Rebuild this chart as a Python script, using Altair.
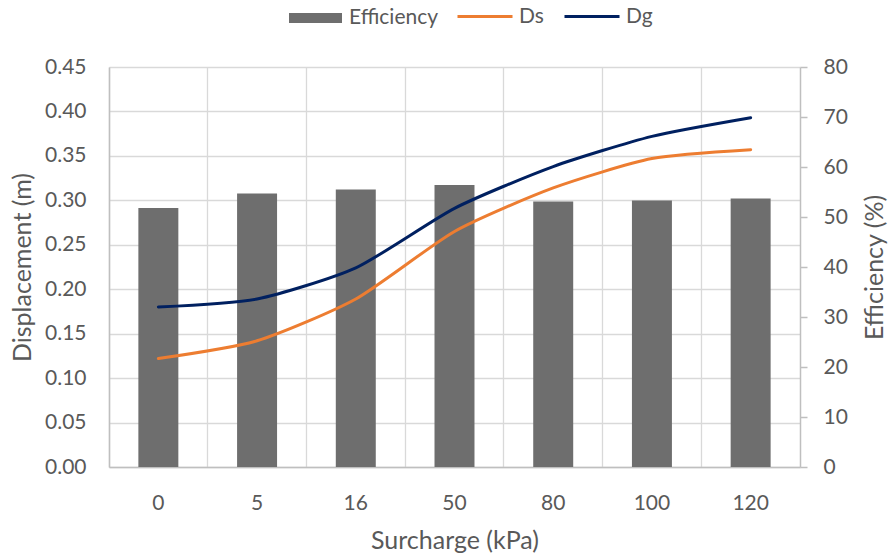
import altair as alt
import pandas as pd

surcharge = ["0", "5", "16", "50", "80", "100", "120"]
efficiency = [51.8, 54.7, 55.5, 56.4, 53.1, 53.3, 53.7]
ds = [0.122, 0.142, 0.189, 0.265, 0.314, 0.347, 0.357]
dg = [0.180, 0.189, 0.224, 0.291, 0.338, 0.372, 0.393]

FONT = "Lato"
TXT = "#595959"
GRID = "#d9d9d9"
AXC = "#bfbfbf"
TITLE_SIZE = 25
LABEL_SIZE = 21

df_eff = pd.DataFrame({"Surcharge": surcharge, "Efficiency": efficiency, "Series": "Efficiency"})
df_lines = pd.concat([
    pd.DataFrame({"Surcharge": surcharge, "Displacement": ds, "Series": "Ds"}),
    pd.DataFrame({"Surcharge": surcharge, "Displacement": dg, "Series": "Dg"}),
])

x_axis = alt.Axis(title="Surcharge (kPa)", labelAngle=0, bandPosition=0, grid=True,
                  gridColor=GRID, gridWidth=1.3, ticks=False, tickSize=0,
                  domainColor=AXC, domainWidth=1.5, labelPadding=25,
                  labelFontSize=LABEL_SIZE, titleFontSize=TITLE_SIZE, titleFontWeight="normal",
                  labelColor=TXT, titleColor=TXT, labelFont=FONT, titleFont=FONT,
                  titleY=73, titleBaseline="middle")
x_scale = alt.Scale(paddingInner=0, paddingOuter=0)

bars = alt.Chart(df_eff).mark_bar(width=alt.RelativeBandSize(0.405)).encode(
    x=alt.X("Surcharge:N", sort=surcharge, scale=x_scale, axis=x_axis),
    y=alt.Y("Efficiency:Q", scale=alt.Scale(domain=[0, 80]),
            axis=alt.Axis(orient="right", title="Efficiency (%)", values=list(range(0, 81, 10)),
                          grid=False, ticks=True, tickSize=7, tickColor=AXC, tickWidth=1.5,
                          domainColor=AXC, domainWidth=1.5, labelPadding=16,
                          labelFontSize=LABEL_SIZE, titleFontSize=TITLE_SIZE, titleFontWeight="normal",
                          labelColor=TXT, titleColor=TXT, labelFont=FONT, titleFont=FONT,
                          titleAngle=270, titleX=74, titleY=200, titleBaseline="middle")),
    fill=alt.Fill("Series:N", scale=alt.Scale(domain=["Efficiency"], range=["#6e6e6e"]),
                  legend=alt.Legend(title=None, orient="none", legendX=180, legendY=-75.5,
                                    symbolType="M-1,-0.19H1V0.19H-1Z", symbolSize=2809,
                                    symbolStrokeWidth=0, labelOffset=7, padding=0,
                                    labelFontSize=LABEL_SIZE, labelColor=TXT, labelFont=FONT)),
)

lines = alt.Chart(df_lines).mark_line(interpolate="cardinal", tension=0.35, strokeWidth=3,
                                      strokeCap="round").encode(
    x=alt.X("Surcharge:N", sort=surcharge, scale=x_scale, axis=x_axis),
    y=alt.Y("Displacement:Q", scale=alt.Scale(domain=[0, 0.45]),
            axis=alt.Axis(orient="left", title="Displacement (m)",
                          values=[0, 0.05, 0.10, 0.15, 0.20, 0.25, 0.30, 0.35, 0.40, 0.45],
                          format=".2f", grid=True, gridColor=GRID, gridWidth=1.3,
                          ticks=False, tickSize=0, domainColor=AXC, domainWidth=1.5,
                          labelPadding=23, labelFontSize=LABEL_SIZE, titleFontSize=TITLE_SIZE,
                          titleFontWeight="normal", labelColor=TXT, titleColor=TXT,
                          labelFont=FONT, titleFont=FONT,
                          titleX=-87, titleY=200, titleBaseline="middle")),
    stroke=alt.Stroke("Series:N", sort=["Ds", "Dg"],
                      scale=alt.Scale(domain=["Ds", "Dg"], range=["#ED7D31", "#002060"]),
                      legend=alt.Legend(title=None, orient="none", direction="horizontal",
                                        legendX=347, legendY=-79.5, symbolType="stroke",
                                        symbolSize=3025, symbolStrokeWidth=3, labelOffset=5,
                                        columnPadding=14, padding=0,
                                        labelFontSize=LABEL_SIZE, labelColor=TXT, labelFont=FONT)),
)

chart = alt.layer(bars, lines).resolve_scale(y="independent").properties(
    width=691, height=400,
    autosize=alt.AutoSizeParams(type="none"),
    padding={"left": 109, "top": 67, "right": 89, "bottom": 87},
    background="white",
).configure_view(strokeWidth=0)

chart.save("out.html", embed_options={"renderer": "svg", "actions": False})
